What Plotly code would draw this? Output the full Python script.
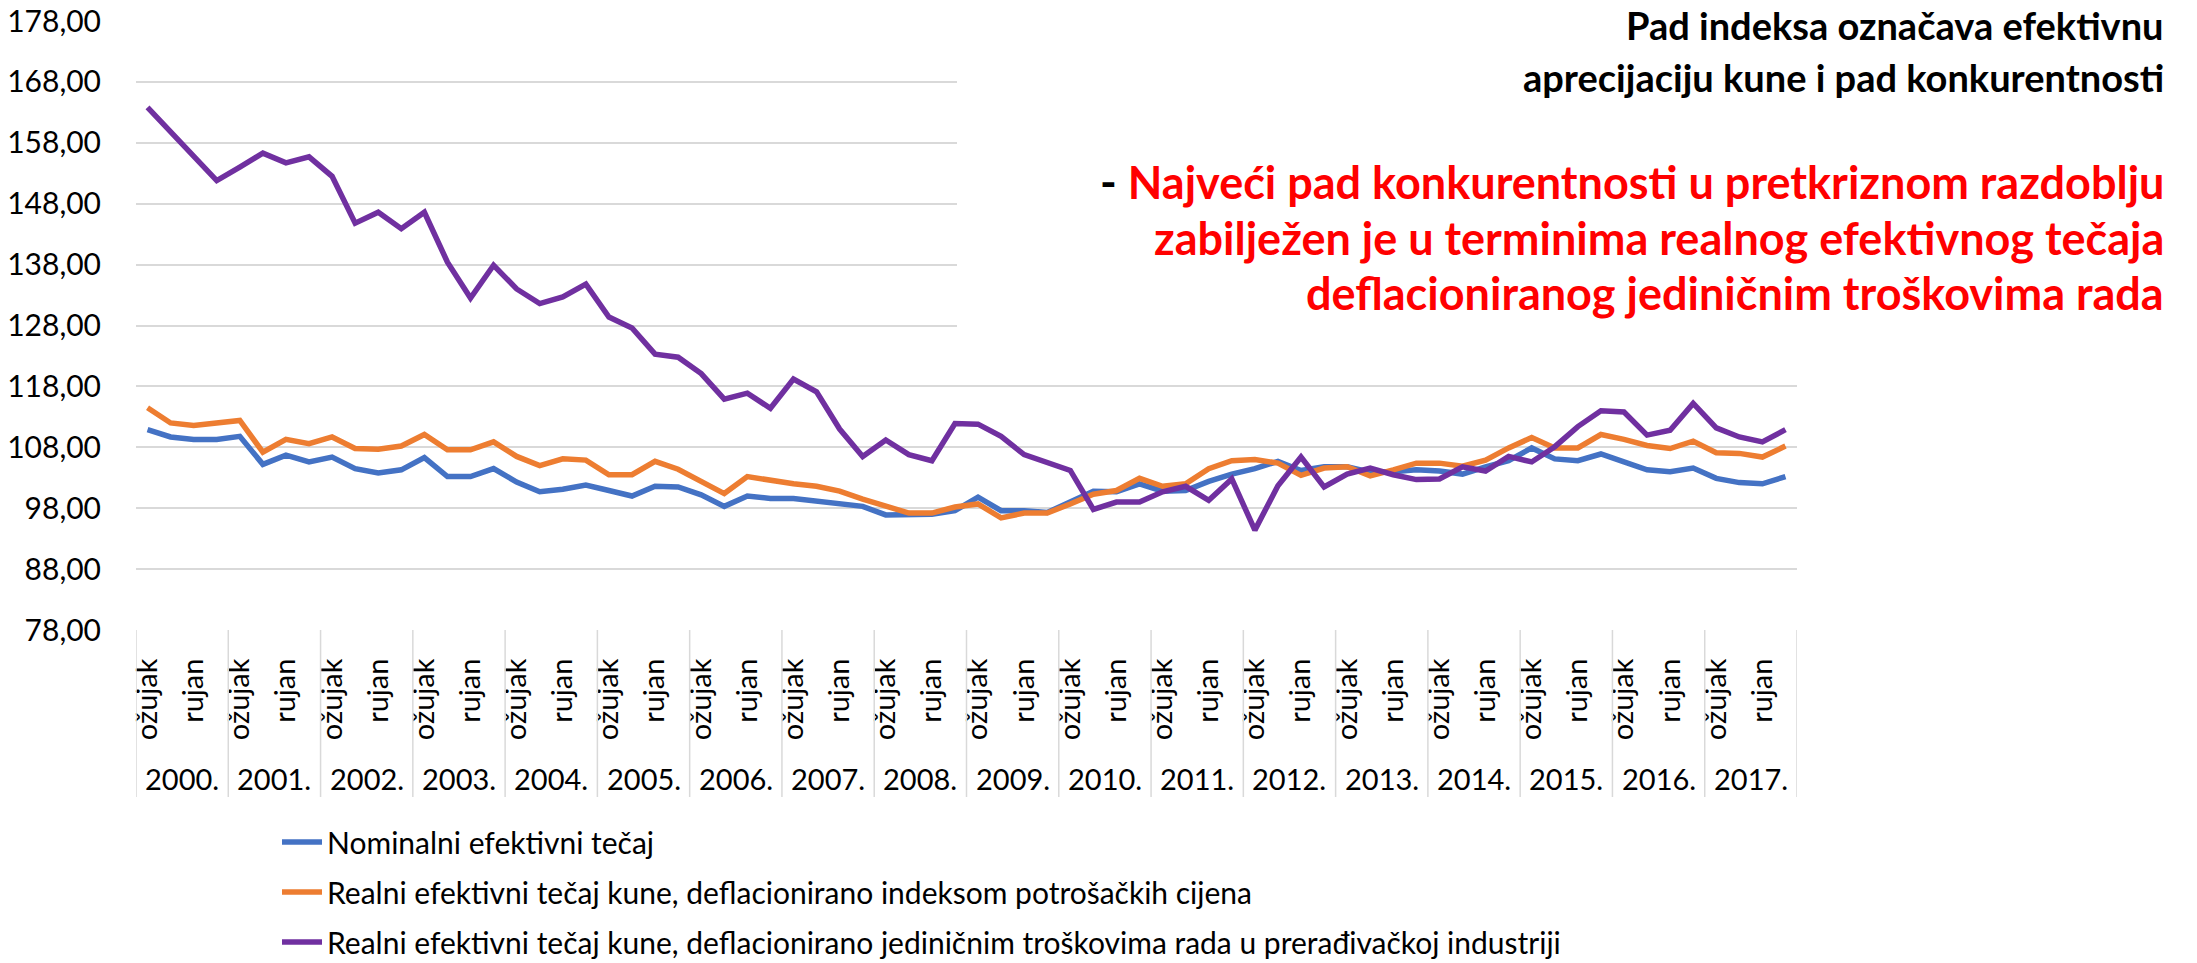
import plotly.graph_objects as go

# ---------------- data ----------------
years = [f"{y}." for y in range(2000, 2018)]
quarters = ["ožujak", "lipanj", "rujan", "prosinac"]
shown_quarters = ["ožujak", "rujan"]

nominalni = [
    110.9, 109.7, 109.3, 109.3,
    109.8, 105.2, 106.7, 105.6,
    106.4, 104.5, 103.8, 104.3,
    106.3, 103.2, 103.2, 104.5,
    102.3, 100.7, 101.1, 101.8,
    100.9, 100.0, 101.6, 101.5,
    100.2, 98.3, 100.0, 99.6,
    99.6, 99.2, 98.8, 98.3,
    96.9, 97.0, 97.0, 97.6,
    99.8, 97.6, 97.6, 97.3,
    99.0, 100.8, 100.7, 102.0,
    100.8, 100.9, 102.4, 103.6,
    104.5, 105.7, 104.2, 104.8,
    104.8, 103.9, 104.0, 104.3,
    104.1, 103.6, 104.8, 105.8,
    107.9, 106.1, 105.8, 106.9,
    105.6, 104.3, 104.0, 104.6,
    102.9, 102.2, 102.0, 103.2,
]
realni_ipc = [
    114.5, 112.0, 111.6, 111.9,
    112.4, 107.2, 109.3, 108.6,
    109.7, 107.8, 107.7, 108.2,
    110.1, 107.6, 107.6, 108.9,
    106.5, 105.0, 106.1, 105.9,
    103.5, 103.5, 105.7, 104.4,
    102.3, 100.4, 103.2, 102.5,
    102.0, 101.6, 100.8, 99.5,
    98.3, 97.2, 97.2, 98.2,
    98.7, 96.4, 97.2, 97.2,
    98.7, 100.3, 100.9, 102.9,
    101.6, 102.0, 104.5, 105.8,
    106.0, 105.4, 103.4, 104.6,
    104.8, 103.3, 104.3, 105.4,
    105.4, 104.9, 105.9, 107.9,
    109.6, 107.9, 107.9, 110.1,
    109.3, 108.3, 107.8, 109.0,
    107.1, 107.0, 106.4, 108.2,
]
realni_jtr = [
    163.8, 159.8, 155.9, 151.8,
    154.0, 156.3, 154.7, 155.7,
    152.5, 144.8, 146.6, 143.9,
    146.6, 138.4, 132.5, 137.9,
    134.0, 131.6, 132.7, 134.8,
    129.4, 127.6, 123.3, 122.8,
    120.1, 115.9, 116.9, 114.4,
    119.2, 117.1, 111.0, 106.5,
    109.2, 106.8, 105.8, 111.9,
    111.8, 109.8, 106.8, 105.6,
    104.2, 97.8, 99.0, 99.0,
    100.7, 101.6, 99.3, 102.8,
    94.4, 101.7, 106.4, 101.5,
    103.6, 104.6, 103.5, 102.7,
    102.8, 104.8, 104.1, 106.5,
    105.6, 108.1, 111.4, 114.0,
    113.8, 110.0, 110.8, 115.2,
    111.2, 109.7, 108.9, 110.9,
]

series_names = [
    "Nominalni efektivni tečaj",
    "Realni efektivni tečaj kune, deflacionirano indeksom potrošačkih cijena",
    "Realni efektivni tečaj kune, deflacionirano jediničnim troškovima rada u prerađivačkoj industriji",
]
series_values = [nominalni, realni_ipc, realni_jtr]
colors = ["#4472C4", "#ED7D31", "#7030A0"]

y_ticks = list(range(78, 179, 10))
y_tick_text = [f"{v},00" for v in y_ticks]

title_black = ["Pad indeksa označava efektivnu", "aprecijaciju kune i pad konkurentnosti"]
title_red = [
    "Najveći pad konkurentnosti u pretkriznom razdoblju",
    "zabilježen je u terminima realnog efektivnog tečaja",
    "deflacioniranog jediničnim troškovima rada",
]

# ---------------- layout geometry (pixels) ----------------
W, H = 2197, 963
PL, PR, PT, PB = 136, 1797, 21, 630
FONT = "Lato, 'Open Sans', sans-serif"


def px_x(px):
    return (px - PL) / (PR - PL)


def px_y(py):
    return (PB - py) / (PB - PT)


n = len(years) * len(quarters)
x_idx = list(range(n))
tickvals = [i for i in x_idx if quarters[i % 4] in shown_quarters]
ticktext = [quarters[i % 4] for i in tickvals]

fig = go.Figure()
for i, (name, vals, col) in enumerate(zip(series_names, series_values, colors)):
    fig.add_trace(go.Scatter(
        x=x_idx, y=vals, name=name, mode="lines",
        line=dict(color=col, width=5.5),
        legendgroup=f"g{i}",
        hoverinfo="skip",
    ))

shapes = []
# year separators on the category axis
for k in range(len(years) + 1):
    shapes.append(dict(type="line", xref="x", yref="paper",
                       x0=4 * k - 0.5, x1=4 * k - 0.5, y0=0, y1=px_y(797),
                       line=dict(color="#D9D9D9", width=1.5)))
# white text box covering upper gridlines
shapes.append(dict(type="rect", xref="paper", yref="paper",
                   x0=px_x(957), x1=px_x(2197), y0=px_y(352), y1=px_y(0),
                   fillcolor="white", line=dict(width=0), layer="above"))

annotations = []
for k, yr in enumerate(years):
    annotations.append(dict(x=4 * k + 1.5, xref="x", y=px_y(778), yref="paper",
                            text=yr, showarrow=False,
                            font=dict(family=FONT, size=29, color="#000"),
                            xanchor="center", yanchor="middle"))

RIGHT = 2166
for txt, py in zip(title_black, [25, 77]):
    annotations.append(dict(x=px_x(RIGHT), y=px_y(py), xref="paper", yref="paper",
                            text=f"<b>{txt}</b>", showarrow=False,
                            xanchor="right", yanchor="middle",
                            font=dict(family=FONT, size=38, color="#000")))
red_lines = [f"<b><span style='color:#000'>- </span>{title_red[0]}</b>"] + \
            [f"<b>{t}</b>" for t in title_red[1:]]
for txt, py in zip(red_lines, [182, 238, 293]):
    annotations.append(dict(x=px_x(RIGHT), y=px_y(py), xref="paper", yref="paper",
                            text=txt, showarrow=False,
                            xanchor="right", yanchor="middle",
                            font=dict(family=FONT, size=45, color="#FF0000")))

fig.update_layout(
    template="none",
    width=W, height=H, autosize=False,
    margin=dict(l=PL, r=W - PR, t=PT, b=H - PB, autoexpand=False),
    paper_bgcolor="white", plot_bgcolor="white",
    font=dict(family=FONT, size=29, color="#000"),
    showlegend=True,
    legend=dict(x=px_x(277), y=px_y(816), xanchor="left", yanchor="top",
                orientation="v", font=dict(family=FONT, size=30, color="#000"),
                tracegroupgap=8, traceorder="grouped", itemwidth=40,
                bgcolor="rgba(0,0,0,0)", borderwidth=0),
    xaxis=dict(range=[-0.5, n - 0.5], tickmode="array", tickvals=tickvals,
               ticktext=ticktext, tickangle=-90, showgrid=False, zeroline=False,
               showline=False, ticks="outside", ticklen=16, automargin=False,
               tickcolor="rgba(0,0,0,0)",
               tickfont=dict(family=FONT, size=29, color="#000"),
               fixedrange=True),
    yaxis=dict(range=[78, 178], tickmode="array", tickvals=y_ticks,
               ticktext=y_tick_text, showgrid=True, gridcolor="#D9D9D9",
               gridwidth=1.5, zeroline=False, showline=False, automargin=False,
               ticks="outside", ticklen=28, tickcolor="rgba(0,0,0,0)",
               tickfont=dict(family=FONT, size=30, color="#000"),
               fixedrange=True),
    shapes=shapes,
    annotations=annotations,
)

fig.write_html(
    "out.html",
    config={"displayModeBar": False},
    post_script="document.body.style.margin='0';document.body.style.overflow='hidden';",
)
